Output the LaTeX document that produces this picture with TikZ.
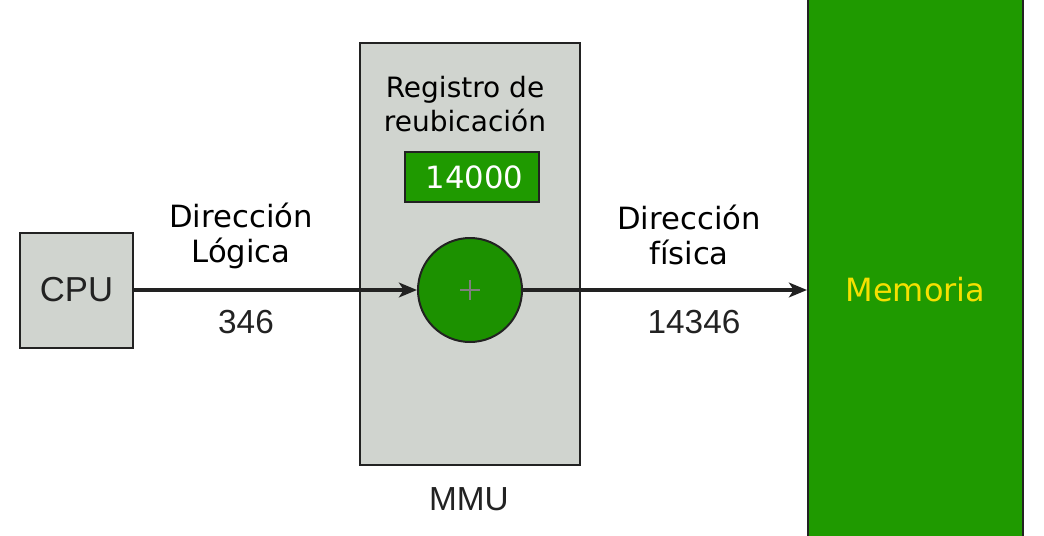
\documentclass[tikz,border=0pt]{standalone}
\usepackage{fontspec}
\setmainfont{DejaVu Sans}
\newfontfamily\arialfont{Liberation Sans}
\usepackage{xcolor}
\usepackage{tikz}
\usetikzlibrary{arrows.meta,calc}

\definecolor{boxgray}{RGB}{208,212,207}
\definecolor{memgreen}{RGB}{31,154,0}
\definecolor{addgreen}{RGB}{28,145,0}
\definecolor{memyellow}{RGB}{245,224,0}
\definecolor{linedark}{RGB}{34,34,34}

\tikzset{
    unitbox/.style={draw=linedark, line width=1.5pt, inner sep=0pt},
    bus/.style={draw=linedark, line width=2.8pt, -{Stealth[length=13.5pt,width=11pt,inset=3.5pt]}},
    bigtext/.style={font=\fontsize{23}{26}\selectfont, align=center, inner sep=0pt},
    numtext/.style={font=\arialfont\fontsize{25}{27}\selectfont, text=linedark, inner sep=0pt}
}

\begin{document}
\begin{tikzpicture}[x=0.75pt, y=-0.75pt]
    \clip (0,0) rectangle (1044,535);

    % Memoria
    \node[unitbox, fill=memgreen, minimum width=161.25pt, minimum height=450pt,
          text=memyellow, font=\fontsize{24}{26}\selectfont] (mem) at (915.5,290) {Memoria};

    % CPU
    \node[unitbox, fill=boxgray, minimum width=84.75pt, minimum height=86.25pt,
          font=\arialfont\fontsize{26}{28}\selectfont, text=linedark] (cpu) at (76.5,290) {CPU};

    % MMU
    \node[unitbox, fill=boxgray, minimum width=165pt, minimum height=316.5pt] (mmu) at (470,254) {};
    \node[numtext] (mmulabel) at (469,499) {MMU};
    \node[bigtext, font=\fontsize{21}{25}\selectfont] (reglabel) at (465,104) {Registro de\\reubicación};
    \node[unitbox, fill=memgreen, minimum width=100.5pt, minimum height=37.5pt,
          text=white, font=\fontsize{23}{25}\selectfont] (reg) at (472,177) {\,14000};
    \node[circle, draw=linedark, line width=1.5pt, fill=addgreen, minimum size=78pt, inner sep=0pt] (add) at (470,290) {};
    \draw[gray, line width=0.8pt] ($(add)+(-10,0)$) -- ($(add)+(10,0)$)
        ($(add)+(0,-10)$) -- ($(add)+(0,10)$);

    % direcciones
    \draw[bus] (cpu) -- (add);
    \draw[bus] (add) -- (mem);
    \node[bigtext] (dirlog) at (241,236) {Dirección\\Lógica};
    \node[numtext] (numlog) at (246,322) {346};
    \node[bigtext] (dirfis) at (689,235) {Dirección\\física};
    \node[numtext] (numfis) at (694,322) {14346};
\end{tikzpicture}
\end{document}
